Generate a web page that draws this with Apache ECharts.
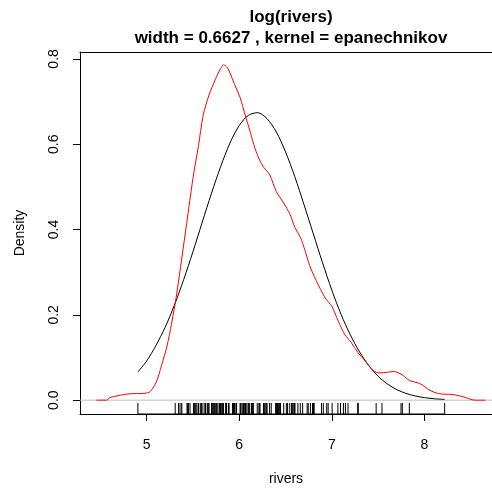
<!DOCTYPE html>
<html>
<head>
<meta charset="utf-8">
<script src="https://cdn.jsdelivr.net/npm/echarts@6/dist/echarts.min.js"></script>
<style>
html,body{margin:0;padding:0;background:#fff;}
#c{width:492px;height:491px;}
</style>
</head>
<body>
<div id="c"></div>
<script>
// river lengths (rug, drawn at log scale)
const rivers = [735,320,325,392,524,450,1459,135,465,600,330,336,280,315,870,906,202,329,290,1000,600,505,1450,840,1243,890,350,407,286,280,525,720,390,250,327,230,265,850,210,630,260,230,360,730,600,306,390,420,291,710,340,217,281,352,259,250,470,680,570,350,300,560,900,625,332,2348,1171,3710,2315,2533,780,280,410,460,260,255,431,350,760,618,338,981,1306,500,696,605,250,411,1054,735,233,435,490,310,460,383,375,1270,545,445,1885,380,300,380,377,425,276,210,800,420,350,360,538,1100,1205,314,237,610,360,540,1038,424,310,300,444,301,268,620,215,652,900,525,246,360,529,500,720,270,430,671,1770];

// kernel density (red)
const densX = [4.46,4.57,4.60,4.68,4.75,4.82,4.89,5.00,5.05,5.11,5.16,5.22,5.27,5.32,5.41,5.50,5.56,5.61,5.67,5.74,5.80,5.83,5.87,5.90,5.95,6.01,6.06,6.12,6.17,6.22,6.26,6.33,6.40,6.48,6.55,6.60,6.66,6.71,6.76,6.83,6.93,7.00,7.07,7.14,7.21,7.28,7.36,7.43,7.48,7.52,7.59,7.66,7.70,7.77,7.84,7.95,8.06,8.15,8.23,8.31,8.42,8.55,8.66];
const densY = [0,0,0.006,0.010,0.013,0.015,0.0155,0.0165,0.023,0.046,0.081,0.127,0.181,0.243,0.38,0.520,0.597,0.667,0.713,0.751,0.778,0.786,0.780,0.767,0.740,0.709,0.671,0.628,0.590,0.563,0.547,0.528,0.489,0.462,0.435,0.405,0.382,0.351,0.316,0.281,0.239,0.220,0.185,0.154,0.135,0.112,0.092,0.073,0.065,0.064,0.065,0.067,0.066,0.058,0.046,0.039,0.023,0.0155,0.014,0.013,0.008,0,0];

// normal reference curve (black)
const normX = [4.905,5.0,5.1,5.2,5.3,5.4,5.5,5.6,5.7,5.8,5.9,6.0,6.1,6.2,6.3,6.4,6.5,6.6,6.7,6.8,6.9,7.0,7.1,7.2,7.3,7.4,7.5,7.6,7.7,7.8,7.9,8.0,8.1,8.219];
const normY = [0.066,0.092,0.128,0.171,0.223,0.283,0.348,0.417,0.485,0.548,0.603,0.644,0.668,0.674,0.660,0.629,0.582,0.524,0.458,0.390,0.322,0.258,0.201,0.153,0.113,0.081,0.056,0.038,0.025,0.016,0.010,0.006,0.0035,0.0018];

const xTicks = [5,6,7,8];
const yTicks = [0,0.2,0.4,0.6,0.8];

const X_MIN = 4.28, X_MAX = 8.73, Y_MIN = -0.0324, Y_MAX = 0.8162;
const FONT = "'Liberation Sans', Arial, Helvetica, sans-serif";

const rugLog = rivers.map(v => Math.log(v));
const rugMin = Math.min(...rugLog), rugMax = Math.max(...rugLog);

const chart = echarts.init(document.getElementById('c'), null, {renderer:'canvas'});
chart.setOption({
  animation:false,
  backgroundColor:'#fff',
  grid:{left:80, right:0, top:52, bottom:72, containLabel:false},
  xAxis:[{
    type:'value', min:X_MIN, max:X_MAX, position:'bottom',
    axisLine:{show:true, onZero:false, lineStyle:{color:'#000', width:1}},
    axisTick:{show:true, length:7, customValues:xTicks, lineStyle:{color:'#000'}},
    axisLabel:{show:true, customValues:xTicks, margin:24, fontSize:14, fontFamily:FONT, color:'#000', formatter:v=>String(v)},
    splitLine:{show:false},
    name:'rivers', nameLocation:'middle', nameGap:58,
    nameTextStyle:{fontSize:14, fontFamily:FONT, color:'#000'}
  },{
    type:'value', min:X_MIN, max:X_MAX, position:'top',
    axisLine:{show:true, onZero:false, lineStyle:{color:'#000', width:1}},
    axisTick:{show:false}, axisLabel:{show:false}, splitLine:{show:false}
  }],
  yAxis:{
    type:'value', min:Y_MIN, max:Y_MAX,
    axisLine:{show:true, onZero:false, lineStyle:{color:'#000', width:1}},
    axisTick:{show:true, length:7, customValues:yTicks, lineStyle:{color:'#000'}},
    axisLabel:{show:true, customValues:yTicks, rotate:90, margin:19, fontSize:14, fontFamily:FONT, color:'#000', formatter:v=>v.toFixed(1)},
    splitLine:{show:false},
    name:'Density', nameLocation:'middle', nameGap:53, nameRotate:90,
    nameTextStyle:{fontSize:14, fontFamily:FONT, color:'#000'}
  },
  graphic:[
    {type:'text', x:291, y:17, style:{text:'log(rivers)', font:'bold 17px '+FONT, fill:'#000', textAlign:'center', textVerticalAlign:'middle'}},
    {type:'text', x:291, y:38, style:{text:'width = 0.6627 , kernel = epanechnikov', font:'bold 17px '+FONT, fill:'#000', textAlign:'center', textVerticalAlign:'middle'}}
  ],
  series:[
    {
      type:'line', data:[[X_MIN,0],[X_MAX,0]], symbol:'none', silent:true,
      lineStyle:{color:'#bebebe', width:1}, z:1
    },
    {
      type:'line', data:normX.map((x,i)=>[x,normY[i]]), symbol:'none', smooth:0.3,
      lineStyle:{color:'#000', width:1}, z:3
    },
    {
      type:'line', data:densX.map((x,i)=>[x,densY[i]]), symbol:'none', smooth:0.3,
      lineStyle:{color:'#ff0000', width:1}, z:4
    },
    {
      type:'line', data:[[rugMin,Y_MIN],[rugMax,Y_MIN]], symbol:'none',
      lineStyle:{color:'#000', width:1}, z:5
    },
    {
      type:'custom', data:rugLog.map(v=>[v,Y_MIN]), z:5,
      renderItem:function(params, api){
        const p = api.coord([api.value(0), api.value(1)]);
        return {type:'line', shape:{x1:p[0], y1:p[1], x2:p[0], y2:p[1]-11}, style:{stroke:'#000', lineWidth:1}};
      }
    }
  ]
});
</script>
</body>
</html>
